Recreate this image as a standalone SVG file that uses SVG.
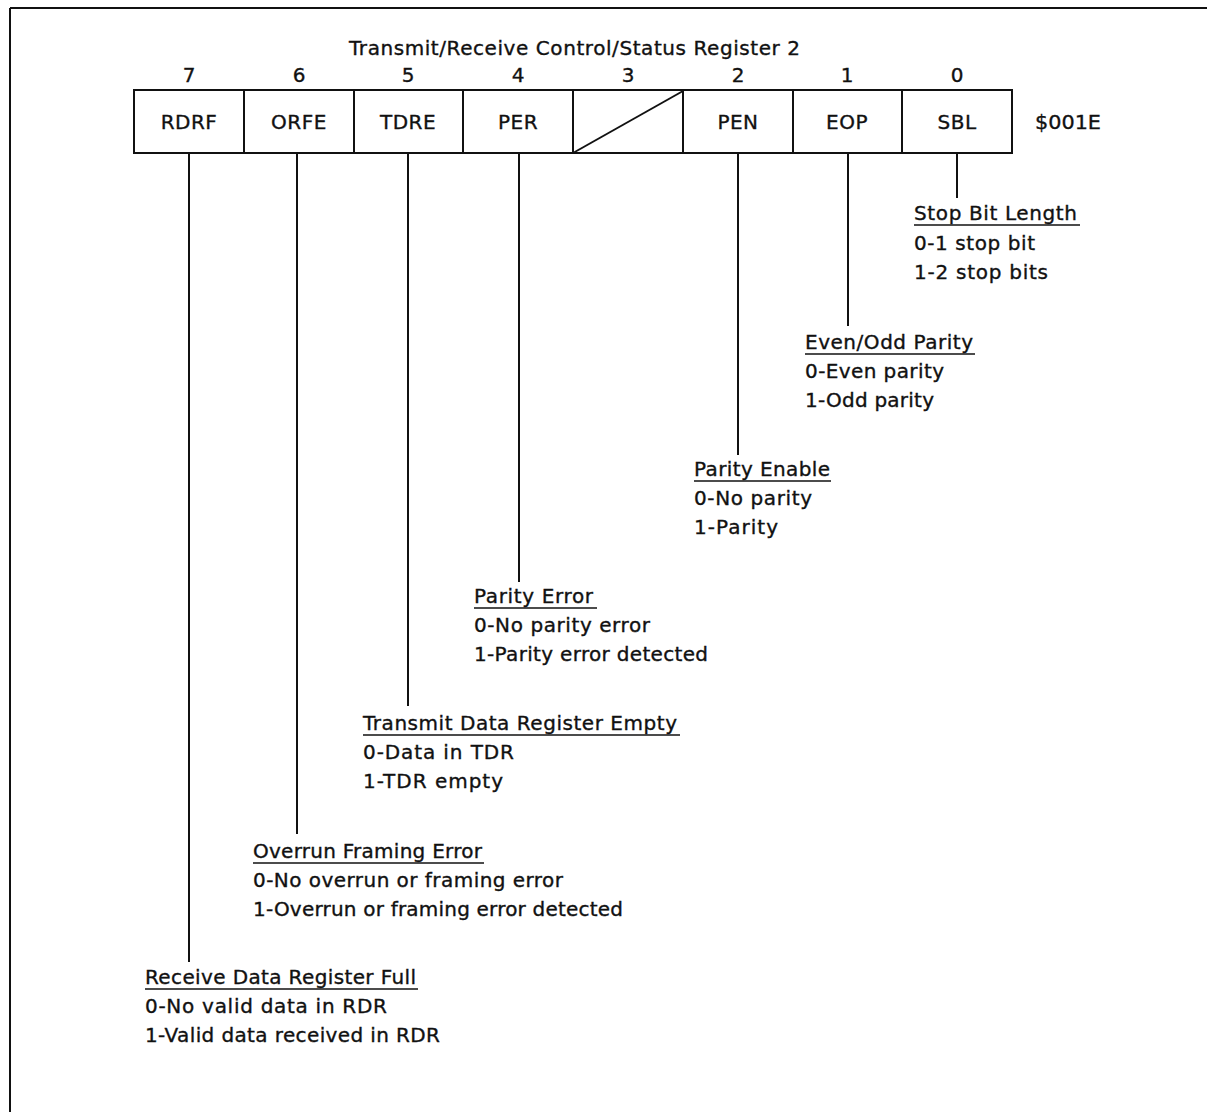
<svg xmlns="http://www.w3.org/2000/svg" width="1207" height="1112" viewBox="0 0 1207 1112">
<style>
  text { font-family: "DejaVu Sans", "Liberation Sans", sans-serif; font-size: 20px; fill: #111; stroke: #111; stroke-width: 0.35; }
  .cell { fill: #fff; stroke: #111; stroke-width: 2; }
  .ln { stroke: #111; stroke-width: 2; fill: none; }
  .ul { stroke: #111; stroke-width: 1.5; }
  .c { text-anchor: middle; }
</style>
<rect width="1207" height="1112" fill="#fff"/>
<g id="frame">
  <line class="ln" x1="10" y1="8" x2="1207" y2="8"/>
  <line class="ln" x1="10" y1="8" x2="10" y2="1112"/>
</g>
<g id="title">
  <text x="349" y="55" textLength="451" lengthAdjust="spacing">Transmit/Receive Control/Status Register 2</text>
</g>
<g id="bitnums">
  <text class="c" x="189" y="82">7</text>
  <text class="c" x="299" y="82">6</text>
  <text class="c" x="408" y="82">5</text>
  <text class="c" x="518" y="82">4</text>
  <text class="c" x="628" y="82">3</text>
  <text class="c" x="738" y="82">2</text>
  <text class="c" x="847" y="82">1</text>
  <text class="c" x="957" y="82">0</text>
</g>
<g id="register">
  <g id="bit7"><rect class="cell" x="134" y="90" width="110" height="63"/><text class="c" x="189" y="129" letter-spacing="0.5">RDRF</text></g>
  <g id="bit6"><rect class="cell" x="244" y="90" width="110" height="63"/><text class="c" x="299" y="129" letter-spacing="0.5">ORFE</text></g>
  <g id="bit5"><rect class="cell" x="354" y="90" width="109" height="63"/><text class="c" x="408" y="129" letter-spacing="0.5">TDRE</text></g>
  <g id="bit4"><rect class="cell" x="463" y="90" width="110" height="63"/><text class="c" x="518" y="129" letter-spacing="0.5">PER</text></g>
  <g id="bit3"><rect class="cell" x="573" y="90" width="110" height="63"/><line class="ln" x1="573" y1="153" x2="683" y2="91"/></g>
  <g id="bit2"><rect class="cell" x="683" y="90" width="110" height="63"/><text class="c" x="738" y="129" letter-spacing="0.5">PEN</text></g>
  <g id="bit1"><rect class="cell" x="793" y="90" width="109" height="63"/><text class="c" x="847" y="129" letter-spacing="0.5">EOP</text></g>
  <g id="bit0"><rect class="cell" x="902" y="90" width="110" height="63"/><text class="c" x="957" y="129" letter-spacing="0.5">SBL</text></g>
  <text x="1035" y="129" textLength="66" lengthAdjust="spacingAndGlyphs">$001E</text>
</g>
<g id="connectors">
  <line class="ln" x1="957" y1="153" x2="957" y2="198"/>
  <line class="ln" x1="848" y1="153" x2="848" y2="326"/>
  <line class="ln" x1="738" y1="153" x2="738" y2="455"/>
  <line class="ln" x1="519" y1="153" x2="519" y2="582"/>
  <line class="ln" x1="408" y1="153" x2="408" y2="706"/>
  <line class="ln" x1="297" y1="153" x2="297" y2="834"/>
  <line class="ln" x1="189" y1="153" x2="189" y2="962"/>
</g>
<g id="desc-sbl">
  <text x="914" y="220" textLength="163" lengthAdjust="spacing">Stop Bit Length</text>
  <line class="ul" x1="914" y1="225" x2="1080" y2="225"/>
  <text x="914" y="250" textLength="121" lengthAdjust="spacing">0-1 stop bit</text>
  <text x="914" y="279" textLength="134" lengthAdjust="spacing">1-2 stop bits</text>
</g>
<g id="desc-eop">
  <text x="805" y="349" textLength="168" lengthAdjust="spacing">Even/Odd Parity</text>
  <line class="ul" x1="805" y1="354" x2="975" y2="354"/>
  <text x="805" y="378" textLength="139" lengthAdjust="spacing">0-Even parity</text>
  <text x="805" y="407" textLength="129" lengthAdjust="spacing">1-Odd parity</text>
</g>
<g id="desc-pen">
  <text x="694" y="476" textLength="136" lengthAdjust="spacing">Parity Enable</text>
  <line class="ul" x1="694" y1="481" x2="831" y2="481"/>
  <text x="694" y="505" textLength="118" lengthAdjust="spacing">0-No parity</text>
  <text x="694" y="534" textLength="84" lengthAdjust="spacing">1-Parity</text>
</g>
<g id="desc-per">
  <text x="474" y="603" textLength="119" lengthAdjust="spacing">Parity Error</text>
  <line class="ul" x1="474" y1="608" x2="597" y2="608"/>
  <text x="474" y="632" textLength="176" lengthAdjust="spacing">0-No parity error</text>
  <text x="474" y="661" textLength="234" lengthAdjust="spacing">1-Parity error detected</text>
</g>
<g id="desc-tdre">
  <text x="363" y="730" textLength="314" lengthAdjust="spacing">Transmit Data Register Empty</text>
  <line class="ul" x1="363" y1="735" x2="680" y2="735"/>
  <text x="363" y="759" textLength="151" lengthAdjust="spacing">0-Data in TDR</text>
  <text x="363" y="788" textLength="140" lengthAdjust="spacing">1-TDR empty</text>
</g>
<g id="desc-orfe">
  <text x="253" y="858" textLength="229" lengthAdjust="spacing">Overrun Framing Error</text>
  <line class="ul" x1="253" y1="863" x2="484" y2="863"/>
  <text x="253" y="887" textLength="310" lengthAdjust="spacing">0-No overrun or framing error</text>
  <text x="253" y="916" textLength="370" lengthAdjust="spacing">1-Overrun or framing error detected</text>
</g>
<g id="desc-rdrf">
  <text x="145" y="984" textLength="271" lengthAdjust="spacing">Receive Data Register Full</text>
  <line class="ul" x1="145" y1="989" x2="418" y2="989"/>
  <text x="145" y="1013" textLength="242" lengthAdjust="spacing">0-No valid data in RDR</text>
  <text x="145" y="1042" textLength="295" lengthAdjust="spacing">1-Valid data received in RDR</text>
</g>
</svg>
